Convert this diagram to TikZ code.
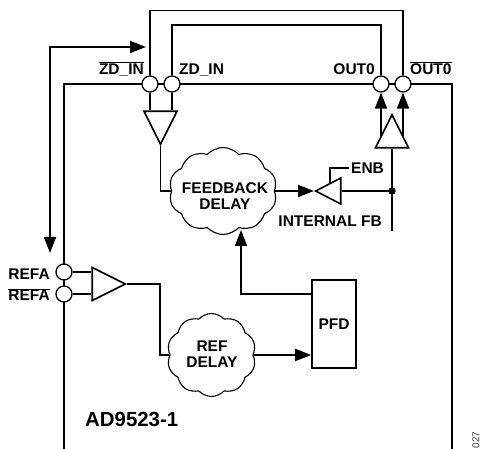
\documentclass[tikz,border=0pt]{standalone}
\usepackage{fontspec}
\setmainfont{Liberation Sans}
\usetikzlibrary{shapes,arrows.meta}

\tikzset{
  lbl/.style={inner sep=0pt, font=\fontsize{15.5}{17}\selectfont\bfseries},
  pin/.style={circle, draw, fill=white, line width=1.3pt, minimum size=16pt, inner sep=0pt},
  amp/.style={isosceles triangle, isosceles triangle apex angle=55, isosceles triangle stretches, draw, fill=white, line width=1.6pt, minimum width=33pt, minimum height=33pt, inner sep=0pt},
  delay/.style={cloud, cloud puffs=10, cloud puff arc=95, cloud ignores aspect, draw, line width=1.1pt, inner sep=0pt},
  delaytxt/.style={inner sep=0pt, align=center, font=\fontsize{15.5}{16}\selectfont\bfseries},
  sig/.style={line width=1.8pt},
  tip/.style={-{Triangle[length=16pt,width=12pt]}}
}

\begin{document}
\begin{tikzpicture}[x=1pt,y=-1pt]
  \useasboundingbox (0,0) rectangle (483,449);
  % chip outline
  \draw [line width=2.5pt] (64,449) -- (64,84) -- (452,84) -- (452,449);
  % pins
  \node [pin] (zdn) at (150,84) {};
  \node [pin] (zd) at (172,84) {};
  \node [pin] (out) at (381,84) {};
  \node [pin] (outn) at (403,84) {};
  \node [pin] (refa) at (64,272) {};
  \node [pin] (refan) at (64,294) {};
  \node [lbl, anchor=base east] at (144,74.5) {$\overline{\mbox{ZD\_IN}}$};
  \node [lbl, anchor=base west] at (179,74.5) {ZD\_IN};
  \node [lbl, anchor=base east] at (375,74.5) {OUT0};
  \node [lbl, anchor=base west] at (410,74.5) {$\overline{\mbox{OUT0}}$};
  \node [lbl, anchor=base east] at (50,280) {REFA};
  \node [lbl, anchor=base east] at (50,301) {$\overline{\mbox{REFA}}$};
  % external loop
  \coordinate (toph) at (150,10.5);
  \coordinate (toplo) at (172,25);
  \draw [sig] (zdn) -- (toph) -- (toph -| outn) -- (outn);
  \draw [sig] (zd) -- (toplo) -- (toplo -| out) -- (out);
  \coordinate (ina) at (146,47);
  \coordinate (inb) at (50,47);
  \coordinate (inc) at (50,253);
  \draw [sig, {Triangle[length=16pt,width=12pt]}-{Triangle[length=16pt,width=12pt]}] (ina) -- (inb) -- (inc);
  % amps
  \node [amp, anchor=apex, shape border rotate=-90] (fbamp) at (160.5,146) {};
  \node [amp, anchor=apex, shape border rotate=90] (outamp) at (392,113) {};
  \node [amp, anchor=apex, shape border rotate=0] (refamp) at (127,284) {};
  \node [amp, anchor=apex, shape border rotate=180, minimum width=26pt, minimum height=25pt] (intamp) at (314,191) {};
  % blocks
  \node [delay, minimum width=108pt, minimum height=87pt] (fbdelay) at (223,191) {};
  \node [delaytxt] (fbtxt) at (225,196) {FEEDBACK\\DELAY};
  \node [delay, minimum width=89pt, minimum height=83pt] (refdelay) at (211.5,355) {};
  \node [delaytxt] (reftxt) at (212,354.5) {REF\\DELAY};
  \node [draw, line width=1.6pt, minimum width=44pt, minimum height=88pt, inner sep=0pt, font=\fontsize{15.5}{17}\selectfont\bfseries] (pfd) at (334,324) {PFD};
  % connections
  \draw [sig] (zdn) -- (zdn |- fbamp.lower side);
  \draw [sig] (zd) -- (zd |- fbamp.lower side);
  \draw [sig] (fbamp.apex) |- (fbdelay.west);
  \draw [sig] (refa) -- (refa -| refamp.lower side);
  \draw [sig] (refan) -- (refan -| refamp.lower side);
  \draw [sig] (refamp.apex) -- (160,284) |- (refdelay.west);
  \draw [sig, tip] (refdelay.east) -- (refdelay.east -| pfd.west);
  \coordinate (pfdout) at (312,294);
  \draw [sig, tip] (pfdout) -- (241,294) -- (241,230);
  \coordinate (outa) at (381,136);
  \coordinate (outb) at (403,136);
  \draw [sig, tip] (outa) -- (out);
  \draw [sig, tip] (outb) -- (outn);
  \coordinate (fbend) at (392,231);
  \draw [sig] (outamp.lower side) -- (fbend);
  \fill (392,191) circle (3.7pt) coordinate (fbdot);
  \draw [sig] (fbdot) -- (intamp.lower side);
  \draw [sig, tip] (fbdelay.east) -- (intamp.apex);
  \coordinate (enbin) at (330,183);
  \draw [sig] (enbin) -- (330,168) -- (349,168);
  \node [lbl, anchor=base west] (enb) at (351,173.5) {ENB};
  \node [lbl, anchor=base east] (intfb) at (382,226.7) {INTERNAL FB};
  \node [anchor=base west, inner sep=0pt, font=\fontsize{20.4}{22}\selectfont\bfseries] (chip) at (85,426.7) {AD9523-1};
  \node [rotate=90, inner sep=0pt, text=black!75, font=\fontsize{10}{11}\selectfont] (fignum) at (476,440) {027};
\end{tikzpicture}
\end{document}
